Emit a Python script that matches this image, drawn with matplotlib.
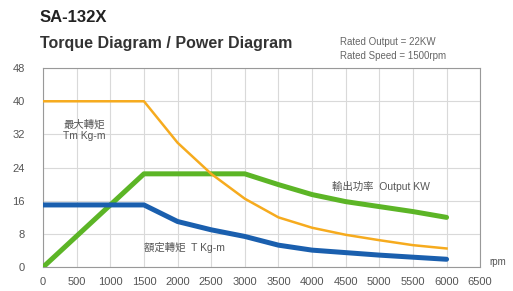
import matplotlib
matplotlib.use('Agg')
import matplotlib.pyplot as plt

plt.rcParams['font.family'] = ['Liberation Sans', 'Noto Sans CJK TC', 'DejaVu Sans']

# speed points (rpm)
rpm = [0, 500, 1000, 1500, 2000, 2500, 3000, 3500, 4000, 4500, 5000, 5500, 6000]

# values
max_torque = [40, 40, 40, 40, 30, 22.5, 16.5, 12, 9.5, 7.8, 6.5, 5.3, 4.5]
rated_torque = [15, 15, 15, 15, 11, 9, 7.4, 5.3, 4.1, 3.5, 2.9, 2.4, 1.9]
output_kw = [0, 7.5, 15, 22.5, 22.5, 22.5, 22.5, 19.9, 17.5, 15.8, 14.6, 13.4, 12]

x_ticks = list(range(0, 7000, 500))
y_ticks = [0, 8, 16, 24, 32, 40, 48]

fig = plt.figure(figsize=(5.13, 2.91), dpi=100)
ax = fig.add_axes([0.084, 0.082, 0.852, 0.684])

ax.plot(rpm, output_kw, color='#5cb526', lw=3.6, solid_capstyle='round', zorder=3)
ax.plot(rpm, rated_torque, color='#1a5fae', lw=3.6, solid_capstyle='round', zorder=4)
ax.plot(rpm, max_torque, color='#f6ab1e', lw=1.8, zorder=5)

ax.set_xlim(0, 6500)
ax.set_ylim(0, 48)
ax.set_xticks(x_ticks)
ax.set_yticks(y_ticks)
ax.tick_params(length=0, labelsize=8, colors='#555555')
ax.tick_params(axis='y', pad=13)
ax.tick_params(axis='x', pad=7)
ax.grid(True, color='#d9d9d9', lw=0.8)
ax.set_axisbelow(True)
for s in ax.spines.values():
    s.set_color('#999999')
    s.set_linewidth(0.8)

ax.text(300, 31, '最大轉矩\nTm Kg-m', fontsize=7.5, color='#555555', linespacing=1.1)
ax.text(1500, 3.8, '額定轉矩  T Kg-m', fontsize=7.5, color='#555555')
ax.text(4300, 18.5, '輸出功率  Output KW', fontsize=7.5, color='#555555')
ax.text(6630, 0.6, 'rpm', fontsize=7, color='#555555', clip_on=False)

fig.text(0.078, 0.925, 'SA-132X', fontsize=12, fontweight='bold', color='#222222')
fig.text(0.078, 0.835, 'Torque Diagram / Power Diagram', fontsize=11.5,
         fontweight='bold', color='#333333')
fig.text(0.662, 0.845, 'Rated Output = 22KW', fontsize=7, color='#666666')
fig.text(0.662, 0.797, 'Rated Speed = 1500rpm', fontsize=7, color='#666666')

fig.savefig('out.png', dpi=100)
